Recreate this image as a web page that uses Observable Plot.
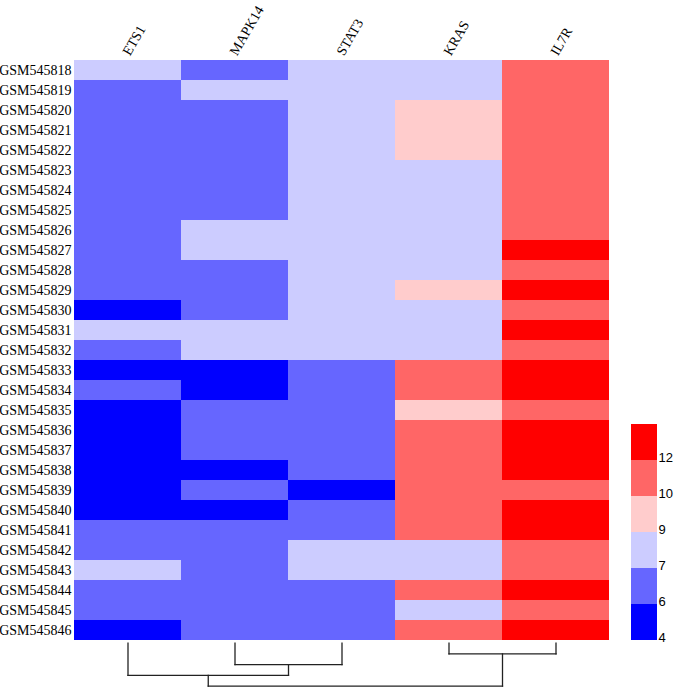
<!DOCTYPE html>
<html>
<head>
<meta charset="utf-8">
<script src="https://cdn.jsdelivr.net/npm/d3@7"></script>
<script src="https://cdn.jsdelivr.net/npm/@observablehq/plot@0.6"></script>
<style>
  body { margin: 0; background: #fff; }
  #wrap { position: relative; width: 674px; height: 687px; }
  #wrap > svg, #wrap > figure { position: absolute; margin: 0; }
</style>
</head>
<body>
<div id="wrap"></div>
<script>
// ---- data ----
const samples = ["GSM545818","GSM545819","GSM545820","GSM545821","GSM545822","GSM545823","GSM545824","GSM545825","GSM545826","GSM545827","GSM545828","GSM545829","GSM545830","GSM545831","GSM545832","GSM545833","GSM545834","GSM545835","GSM545836","GSM545837","GSM545838","GSM545839","GSM545840","GSM545841","GSM545842","GSM545843","GSM545844","GSM545845","GSM545846"];
const genes = ["ETS1", "MAPK14", "STAT3", "KRAS", "IL7R"];

const ETS1   = [8,6.5,6.5,6.5,6.5,6.5,6.5,6.5,6.5,6.5,6.5,6.5,5,8,6.5,5,6.5,5,5,5,5,5,5,6.5,6.5,8,6.5,6.5,5];
const MAPK14 = [6.5,8,6.5,6.5,6.5,6.5,6.5,6.5,8,8,6.5,6.5,6.5,8,8,5,5,6.5,6.5,6.5,5,6.5,5,6.5,6.5,6.5,6.5,6.5,6.5];
const STAT3  = [8,8,8,8,8,8,8,8,8,8,8,8,8,8,8,6.5,6.5,6.5,6.5,6.5,6.5,5,6.5,6.5,8,8,6.5,6.5,6.5];
const KRAS   = [8,8,9.5,9.5,9.5,8,8,8,8,8,8,9.5,8,8,8,11,11,9.5,11,11,11,11,11,11,8,8,11,8,11];
const IL7R   = [11,11,11,11,11,11,11,11,11,12.5,11,12.5,11,12.5,11,12.5,12.5,11,12.5,12.5,12.5,11,12.5,12.5,11,11,12.5,11,12.5];

const legendTicks = [4, 6, 7, 9, 10, 12];
const colorBreaks = [6, 7, 9, 10, 12];
const colorRange = ["#0000ff", "#6666ff", "#ccccff", "#ffcccc", "#ff6666", "#ff0000"];

// dendrogram merges (cluster i is named "c" + (i+1))
const dendroLeft   = ["KRAS", "MAPK14", "ETS1", "c3"];
const dendroRight  = ["IL7R", "STAT3", "c2", "c1"];
const dendroHeight = [1, 2, 3, 4];

// ---- build tables ----
const series = {ETS1, MAPK14, STAT3, KRAS, IL7R};
const cells = [];
genes.forEach(g => samples.forEach((s, i) => cells.push({gene: g, sample: s, value: series[g][i]})));

const colorScale = {type: "threshold", domain: colorBreaks, range: colorRange};

const W = 674, H = 687;
const mL = 74, mR = 65, mT = 58, mB = 46;

const wrap = document.getElementById("wrap");

// main heatmap
const main = Plot.plot({
  width: W, height: H,
  marginLeft: mL, marginRight: mR, marginTop: mT, marginBottom: mB,
  style: {fontFamily: "'Liberation Serif', 'Times New Roman', serif", fontSize: "14px", color: "#000", background: "transparent"},
  x: {domain: genes, padding: 0, axis: null},
  y: {domain: samples, padding: 0, axis: null},
  color: colorScale,
  marks: [
    Plot.cell(cells, {x: "gene", y: "sample", fill: "value", inset: 0}),
    Plot.axisY({tickSize: 0, tickPadding: 3, label: null, fontSize: 14, fill: "#000"}),
    Plot.text(genes, {x: d => d, text: d => d, frameAnchor: "top", textAnchor: "start", lineAnchor: "bottom", rotate: -60, dy: -2, dx: 2, fontSize: 14, fill: "#000"})
  ]
});
main.style.left = "0px"; main.style.top = "0px";
wrap.appendChild(main);

// dendrogram
const pos = {};
genes.forEach((g, i) => pos[g] = {x: i + 0.5, h: 0});
const segs = [];
dendroLeft.forEach((a, i) => {
  const b = dendroRight[i], h = dendroHeight[i];
  const pa = pos[a], pb = pos[b];
  segs.push({x1: pa.x, y1: pa.h, x2: pa.x, y2: h});
  segs.push({x1: pb.x, y1: pb.h, x2: pb.x, y2: h});
  segs.push({x1: pa.x, y1: h, x2: pb.x, y2: h});
  pos["c" + (i + 1)] = {x: (pa.x + pb.x) / 2, h};
});
const dendro = Plot.plot({
  width: W, height: H,
  margin: 0,
  style: {background: "transparent"},
  x: {type: "linear", domain: [0, genes.length], range: [mL, W - mR], axis: null},
  y: {type: "linear", domain: [0, 4], range: [642.7, 685.6], axis: null},
  marks: [
    Plot.link(segs, {x1: "x1", y1: "y1", x2: "x2", y2: "y2", stroke: "#222", strokeWidth: 1.3, strokeLinecap: "square"})
  ]
});
dendro.style.left = "0px"; dendro.style.top = "0px";
wrap.appendChild(dendro);

// legend
const legTop = 423, legBot = 641, legX = 631, boxW = 26;
const legendData = legendTicks.map(v => ({v}));
const legend = Plot.plot({
  width: W, height: H,
  margin: 0,
  style: {fontFamily: "'Liberation Sans', Arial, sans-serif", fontSize: "13px", background: "transparent"},
  x: {type: "linear", domain: [0, 1], range: [legX, legX + boxW], axis: null},
  y: {type: "band", domain: legendTicks.slice().reverse(), range: [legTop, legBot], padding: 0, axis: null},
  color: colorScale,
  marks: [
    Plot.barX(legendData, {x1: 0, x2: 1, y: "v", fill: "v"}),
    Plot.text(legendData, {x: 1, y: "v", text: d => String(d.v), textAnchor: "start", dx: 1, dy: (legBot - legTop) / legendTicks.length / 2 - 3, fill: "#000", fontSize: 13})
  ]
});
legend.style.left = "0px"; legend.style.top = "0px";
wrap.appendChild(legend);
</script>
</body>
</html>
